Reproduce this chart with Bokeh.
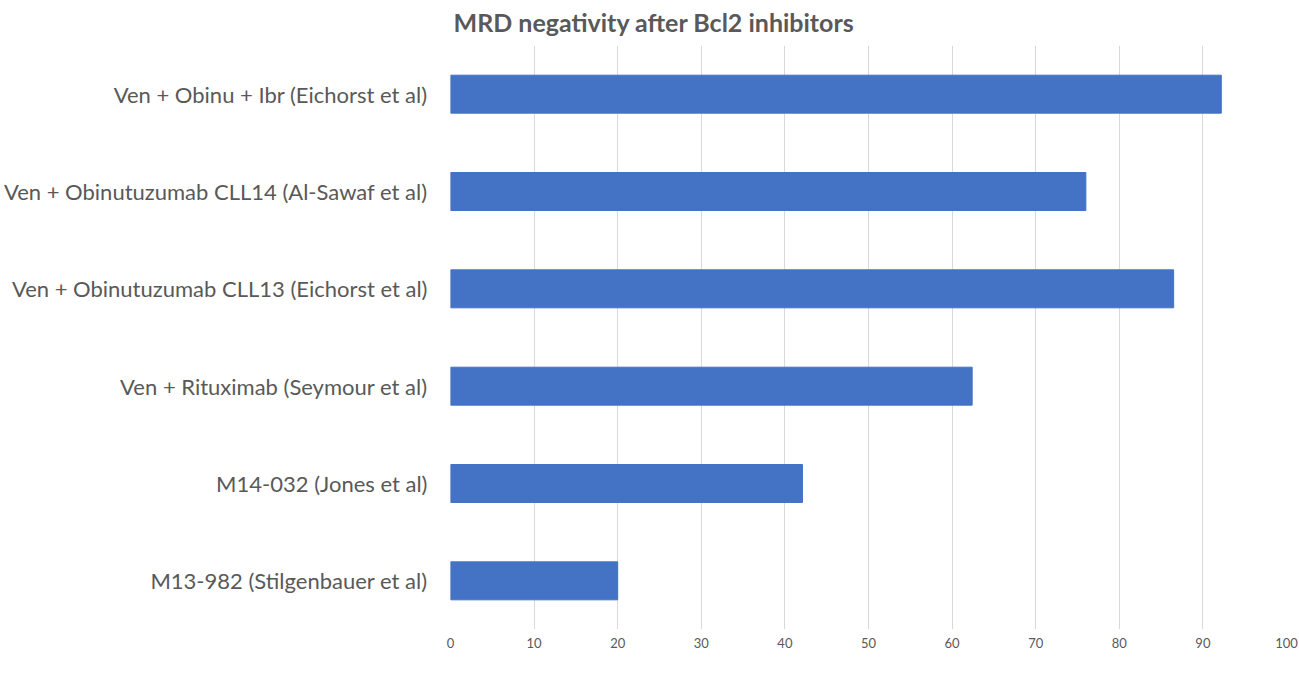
from bokeh.plotting import figure
from bokeh.models import ColumnDataSource, Legend, LegendItem, Title, FactorRange, Range1d, FixedTicker
from bokeh.embed import file_html
from bokeh.resources import INLINE

categories = [
    "Ven + Obinu + Ibr (Eichorst et al)",
    "Ven + Obinutuzumab CLL14 (Al-Sawaf et al)",
    "Ven + Obinutuzumab CLL13 (Eichorst et al)",
    "Ven + Rituximab (Seymour et al)",
    "M14-032 (Jones et al)",
    "M13-982 (Stilgenbauer et al)",
]
values = [92.2, 76.0, 86.5, 62.4, 42.1, 20.0]
series_name = "MRD negativity after Bcl2 inhibitors"
title_text = "MRD negativity after Bcl2 inhibitors"
x_ticks = [0, 10, 20, 30, 40, 50, 60, 70, 80, 90, 100]

cats_bottom_up = categories[::-1]
vals_bottom_up = values[::-1]
src = ColumnDataSource(dict(cat=cats_bottom_up, val=vals_bottom_up))

TEXT = "#595959"
FONT = "Lato"

p = figure(
    y_range=FactorRange(factors=cats_bottom_up),
    x_range=Range1d(0, 100),
    frame_width=836, frame_height=584,
    min_border_left=450, min_border_right=12, min_border_top=45, min_border_bottom=0,
    output_backend="svg", toolbar_location=None, title=None,
)
p.outline_line_color = None
p.background_fill_color = "white"
p.border_fill_color = "white"

r = p.hbar(y="cat", right="val", left=0, height=0.39, source=src,
           fill_color="#4472C4", line_color="#4472C4", line_width=1)

p.xgrid.grid_line_color = "#d9d9d9"
p.xgrid.grid_line_width = 1
p.ygrid.grid_line_color = None

p.xaxis.ticker = FixedTicker(ticks=x_ticks)
p.xaxis.axis_line_color = None
p.xaxis.major_tick_line_color = None
p.xaxis.minor_tick_line_color = None
p.xaxis.major_tick_out = 0
p.xaxis.major_tick_in = 0
p.xaxis.major_label_text_font = FONT
p.xaxis.major_label_text_font_size = "13px"
p.xaxis.major_label_text_color = TEXT
p.xaxis.major_label_standoff = 8

p.yaxis.axis_line_color = None
p.yaxis.major_tick_line_color = None
p.yaxis.minor_tick_line_color = None
p.yaxis.major_label_text_font = FONT
p.yaxis.major_label_text_font_size = "22px"
p.yaxis.major_label_text_color = TEXT
p.yaxis.major_label_standoff = 17

t = Title(text=title_text, align="left", offset=3, standoff=13, vertical_align="top",
          text_font=FONT, text_font_size="25px", text_font_style="bold",
          text_color=TEXT)
p.add_layout(t, "above")

legend = Legend(items=[LegendItem(label=series_name, renderers=[r])],
                location="top_left", orientation="horizontal",
                border_line_color=None, background_fill_alpha=0,
                label_text_font=FONT, label_text_font_size="21px",
                label_text_color=TEXT, glyph_width=12, glyph_height=12,
                padding=0, margin=0, label_standoff=4)
p.add_layout(legend, "below")

open("out.html", "w").write(file_html(p, INLINE))
